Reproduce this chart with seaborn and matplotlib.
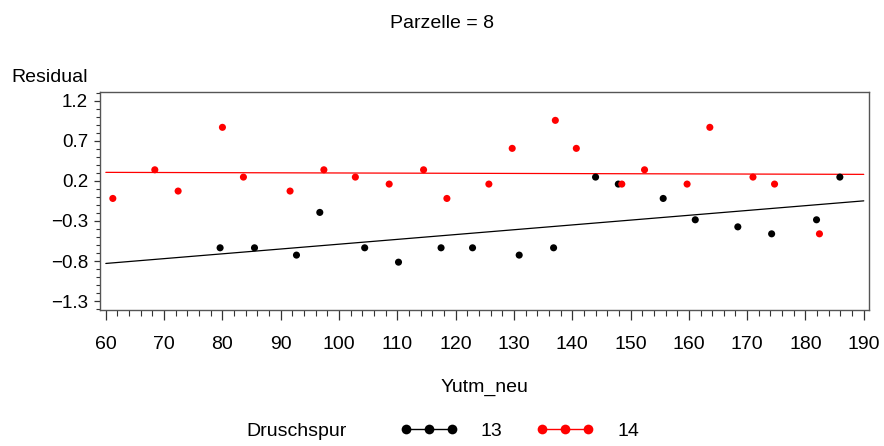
import matplotlib
matplotlib.use("Agg")
import matplotlib.pyplot as plt
import seaborn as sns
import pandas as pd
from matplotlib.lines import Line2D
from matplotlib.ticker import MultipleLocator

# ---- data ----
x13 = [79.6, 85.5, 92.7, 96.7, 104.4, 110.2, 117.5, 122.9, 130.9, 136.8, 144.0,
       147.9, 155.6, 161.1, 168.4, 174.2, 181.9, 185.9]
y13 = [-0.635, -0.635, -0.726, -0.194, -0.635, -0.814, -0.635, -0.635, -0.726,
       -0.635, 0.246, 0.159, -0.02, -0.286, -0.374, -0.461, -0.286, 0.246]
x14 = [61.2, 68.4, 72.4, 80.0, 83.6, 91.6, 97.4, 102.8, 108.6, 114.5, 118.5,
       125.7, 129.7, 137.1, 140.7, 148.5, 152.4, 159.7, 163.6, 171.0, 174.7, 182.4]
y14 = [-0.02, 0.337, 0.072, 0.866, 0.246, 0.072, 0.337, 0.246, 0.159, 0.337,
       -0.02, 0.159, 0.604, 0.953, 0.604, 0.159, 0.337, 0.159, 0.866, 0.246,
       0.159, -0.461]
fit_x = [60, 190]
fit13 = [-0.83, -0.05]
fit14 = [0.305, 0.28]
groups = ["13", "14"]
xticks = [60, 70, 80, 90, 100, 110, 120, 130, 140, 150, 160, 170, 180, 190]
yticks = [-1.3, -0.8, -0.3, 0.2, 0.7, 1.2]

colors = {"13": "black", "14": "#ff0000"}

pts = pd.DataFrame({
    "Yutm_neu": x13 + x14,
    "Residual": y13 + y14,
    "Druschspur": ["13"] * len(x13) + ["14"] * len(x14),
})
fits = pd.DataFrame({
    "Yutm_neu": fit_x + fit_x,
    "Residual": fit13 + fit14,
    "Druschspur": ["13"] * 2 + ["14"] * 2,
})

sns.set_style("white")
plt.rcParams["font.family"] = ["Liberation Sans", "DejaVu Sans"]
plt.rcParams["text.color"] = "black"
plt.rcParams["xtick.color"] = "black"
plt.rcParams["ytick.color"] = "black"

FS = 14

fig = plt.figure(figsize=(8.84, 4.46), dpi=100)
ax = fig.add_axes([100 / 884, 1 - 310 / 446, 769 / 884, (310 - 91.7) / 446])

sns.lineplot(data=fits, x="Yutm_neu", y="Residual", hue="Druschspur",
             palette=colors, hue_order=groups, linewidth=0.9, legend=False, ax=ax)
sns.scatterplot(data=pts, x="Yutm_neu", y="Residual", hue="Druschspur",
                palette=colors, hue_order=groups, s=26, linewidth=0,
                legend=False, ax=ax, zorder=3)

ax.set_xlim(59.0, 190.9)
ax.set_ylim(-1.41, 1.31)
ax.set_xticks(xticks)
ax.set_yticks(yticks)
ax.set_yticklabels([f"{v:.1f}".replace("-", "\u2212") for v in yticks])
ax.xaxis.set_minor_locator(MultipleLocator(2))
ax.yaxis.set_minor_locator(MultipleLocator(0.1))
ax.tick_params(axis="x", which="major", direction="out", length=7, width=0.9,
               color="#333333", labelsize=FS, pad=12, bottom=True)
ax.tick_params(axis="x", which="minor", direction="out", length=4.5, width=0.8,
               color="#333333", bottom=True)
ax.tick_params(axis="y", which="major", direction="out", length=4.5, width=0.9,
               color="#333333", labelsize=13.5, pad=4, left=True)
ax.tick_params(axis="y", which="minor", direction="out", length=2.6, width=0.8,
               color="#333333", left=True)
for sp in ax.spines.values():
    sp.set_color("#555555")
    sp.set_linewidth(1.0)

ax.set_xlabel("")
ax.set_ylabel("")
fig.text(11 / 884, 1 - 77 / 446, "Residual", fontsize=FS, ha="left", va="center")
fig.text(0.5, 1 - 23 / 446, "Parzelle = 8", fontsize=FS, ha="center", va="center")
fig.text(484.5 / 884, 1 - 387 / 446, "Yutm_neu", fontsize=FS, ha="center", va="center")
fig.text(246 / 884, 1 - 432 / 446, "Druschspur", fontsize=FS, ha="left", va="center")

handles = [Line2D([0], [0], color=colors[g], marker="o", markersize=7,
                  linewidth=1, markeredgewidth=0) for g in groups]
fig.legend(handles, groups, loc="center left", bbox_to_anchor=(400 / 884, 1 - 431 / 446),
           ncol=2, numpoints=3, frameon=False, fontsize=FS, handlelength=2.95,
           handletextpad=1.2, columnspacing=1.75, borderpad=0, borderaxespad=0)

fig.savefig("out.png", dpi=100)
